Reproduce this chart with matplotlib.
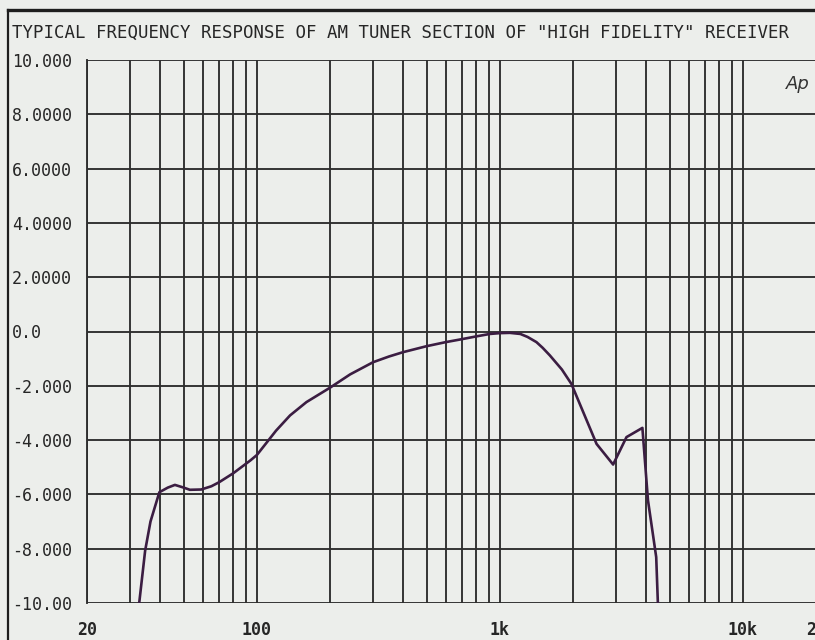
import numpy as np
import matplotlib
matplotlib.use("Agg")
import matplotlib.pyplot as plt
from matplotlib.ticker import LogLocator, NullFormatter
from matplotlib.lines import Line2D

# Frequency response sweep (Hz, dB)
freq_hz = [32.8, 34.7, 36.5, 39.7, 43, 46, 50, 53, 59, 65, 70, 80, 94, 100, 120,
           137, 160, 200, 242, 301, 350, 400, 500, 600, 700, 800, 910, 1000,
           1100, 1214, 1300, 1414, 1500, 1606, 1800, 1970, 2500, 2925, 3320,
           3860, 4070, 4400, 4470]
level_db = [-10.0, -8.07, -7.0, -5.92, -5.75, -5.65, -5.75, -5.83, -5.82, -5.7,
            -5.55, -5.22, -4.75, -4.55, -3.65, -3.09, -2.6, -2.07, -1.58, -1.13,
            -0.92, -0.76, -0.54, -0.39, -0.28, -0.18, -0.09, -0.06, -0.05,
            -0.09, -0.2, -0.39, -0.6, -0.88, -1.4, -1.93, -4.14, -4.9, -3.89,
            -3.55, -6.22, -8.31, -10.0]

y_ticks = [10, 8, 6, 4, 2, 0, -2, -4, -6, -8, -10]
y_tick_labels = ["10.000", "8.0000", "6.0000", "4.0000", "2.0000", "0.0",
                 "-2.000", "-4.000", "-6.000", "-8.000", "-10.00"]
x_ticks = [20, 100, 1000, 10000, 20000]
x_tick_labels = ["20", "100", "1k", "10k", "20"]

title = 'TYPICAL FREQUENCY RESPONSE OF AM TUNER SECTION OF "HIGH FIDELITY" RECEIVER'

paper = "#eceeeb"
ink = "#262626"
grid_col = "#2e2e2e"
trace_col = "#3b1d42"
mono = ["DejaVu Sans Mono"]

W, H = 815, 640
fig = plt.figure(figsize=(W / 100, H / 100), dpi=100, facecolor=paper)

left_px, right_px, top_px, bottom_px = 87, 816, 60, 603
ax = fig.add_axes([left_px / W, 1 - bottom_px / H,
                   (right_px - left_px) / W, (bottom_px - top_px) / H])
ax.set_facecolor(paper)
ax.set_xscale("log")
ax.set_xlim(20, 20000)
ax.set_ylim(-10, 10)

ax.set_xticks(x_ticks)
ax.set_xticklabels(x_tick_labels)
ax.xaxis.set_minor_locator(LogLocator(base=10, subs=np.arange(2, 10)))
ax.xaxis.set_minor_formatter(NullFormatter())
ax.set_yticks(y_ticks)
ax.set_yticklabels(y_tick_labels)

ax.grid(True, which="both", axis="x", color=grid_col, lw=1.35)
ax.grid(True, which="major", axis="y", color=grid_col, lw=1.35)
ax.set_axisbelow(True)

for side in ("top", "right", "bottom"):
    ax.spines[side].set_visible(False)
ax.spines["left"].set_color(grid_col)
ax.spines["left"].set_linewidth(1.35)

ax.tick_params(axis="both", which="both", length=0)
ax.tick_params(axis="y", pad=54)
ax.tick_params(axis="x", pad=13)
for lab in ax.get_yticklabels():
    lab.set_horizontalalignment("left")
    lab.set_fontfamily(mono)
    lab.set_fontsize(12)
    lab.set_color(ink)
for lab in ax.get_xticklabels():
    lab.set_fontfamily(mono)
    lab.set_fontsize(12)
    lab.set_fontweight("bold")
    lab.set_color(ink)

ax.plot(freq_hz, level_db, color=trace_col, lw=1.9, solid_joinstyle="round",
        clip_on=True, zorder=3)

# Instrument badge
ax.text(0.992, 0.955, "Ap", transform=ax.transAxes, ha="right", va="center",
        fontsize=13, style="italic", color="#333333", family=["DejaVu Sans"])

# Title and page frame
fig.text(12 / W, 1 - 33 / H, title, ha="left", va="center",
         family=mono, fontsize=12.5, color=ink)
fig.add_artist(Line2D([8 / W, 8 / W], [0, 1 - 10 / H], color="#1e1e1e",
                      lw=1.6, transform=fig.transFigure))
fig.add_artist(Line2D([8 / W, 1], [1 - 10 / H, 1 - 10 / H], color="#1e1e1e",
                      lw=2.4, transform=fig.transFigure))

fig.savefig("out.png", dpi=100, facecolor=paper)
